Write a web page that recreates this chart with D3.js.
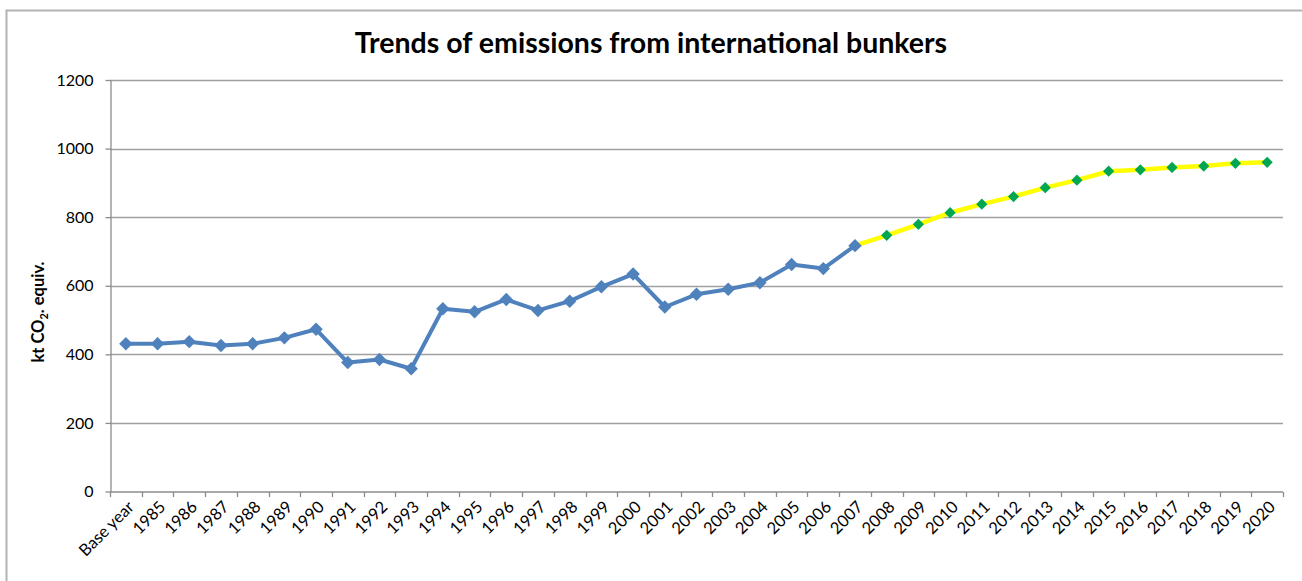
<!DOCTYPE html>
<html>
<head>
<meta charset="utf-8">
<script src="https://cdn.jsdelivr.net/npm/d3@7"></script>
<style>
  html, body { margin: 0; padding: 0; background: #fff; }
  svg { display: block; }
</style>
</head>
<body>
<svg id="chart" width="1302" height="581"></svg>
<script>
// Categories along the x axis
const categories = ["Base year", "1985", "1986", "1987", "1988", "1989", "1990", "1991", "1992",
  "1993", "1994", "1995", "1996", "1997", "1998", "1999", "2000", "2001", "2002", "2003",
  "2004", "2005", "2006", "2007", "2008", "2009", "2010", "2011", "2012", "2013", "2014",
  "2015", "2016", "2017", "2018", "2019", "2020"];

// Historical emissions, Base year to 2007 (kt CO2 equiv.)
const historical = [431, 431, 437, 426, 431, 448, 473, 376, 385, 358, 533, 524, 560, 528,
  555, 597, 634, 538, 575, 590, 609, 662, 650, 717];

// Projected emissions, 2007 to 2020 (kt CO2 equiv.)
const projectionYears = ["2007", "2008", "2009", "2010", "2011", "2012", "2013", "2014",
  "2015", "2016", "2017", "2018", "2019", "2020"];
const projection = [717, 747, 779, 813, 838, 860, 886, 908, 934, 938, 945, 949, 957, 960];

const yTicks = [0, 200, 400, 600, 800, 1000, 1200];

const svg = d3.select("#chart");
const font = "Lato, 'Open Sans', sans-serif";

// Outer frame
svg.append("path")
  .attr("d", "M6.5,590 L6.5,10.5 L1310,10.5")
  .attr("fill", "none").attr("stroke", "#b3b3b3").attr("stroke-width", 2);

const plotLeft = 110, plotRight = 1283, plotTop = 80, plotBottom = 491.5;

const x = d3.scaleBand().domain(categories).range([plotLeft, plotRight]).padding(0);
const y = d3.scaleLinear().domain([0, 1200]).range([plotBottom, plotTop]);

// Horizontal gridlines
svg.append("g")
  .selectAll("line")
  .data(yTicks.filter(d => d > 0))
  .join("line")
  .attr("x1", plotLeft).attr("x2", plotRight)
  .attr("y1", d => Math.round(y(d)) + 0.5).attr("y2", d => Math.round(y(d)) + 0.5)
  .attr("stroke", "#a0a0a0").attr("stroke-width", 1.3);

// Y axis
const yAxis = svg.append("g")
  .attr("transform", `translate(${plotLeft + 0.5},0)`)
  .call(d3.axisLeft(y).tickValues(yTicks).tickFormat(d3.format("d"))
    .tickSize(5).tickPadding(12).tickSizeOuter(0));
yAxis.select(".domain").attr("stroke", "#8c8c8c").attr("stroke-width", 1.3);
yAxis.selectAll(".tick line").attr("stroke", "#8c8c8c").attr("stroke-width", 1.3);
yAxis.selectAll(".tick text")
  .attr("font-family", font).attr("font-size", 16).attr("fill", "#000");

// X axis with ticks at category boundaries
const xAxisG = svg.append("g").attr("transform", `translate(0,${plotBottom + 0.5})`);
xAxisG.append("line")
  .attr("x1", plotLeft).attr("x2", plotRight)
  .attr("stroke", "#8c8c8c").attr("stroke-width", 1.3);
xAxisG.selectAll("line.tk")
  .data(categories.concat(["__end"]))
  .join("line").attr("class", "tk")
  .attr("x1", (d, i) => Math.round(plotLeft + i * x.bandwidth()) + 0.5)
  .attr("x2", (d, i) => Math.round(plotLeft + i * x.bandwidth()) + 0.5)
  .attr("y1", 0).attr("y2", 5)
  .attr("stroke", "#8c8c8c").attr("stroke-width", 1.3);
xAxisG.selectAll("text")
  .data(categories)
  .join("text")
  .attr("transform", d => `translate(${x(d) + x.bandwidth() / 2 + 5},${12}) rotate(-45)`)
  .attr("text-anchor", "end")
  .attr("dy", "0.35em")
  .attr("font-family", font).attr("font-size", 16.5).attr("fill", "#000")
  .text(d => d);

// Title
svg.append("text")
  .attr("x", 651).attr("y", 53)
  .attr("text-anchor", "middle")
  .attr("font-family", font).attr("font-weight", "bold").attr("font-size", 28.5)
  .attr("fill", "#000")
  .text("Trends of emissions from international bunkers");

// Y axis title
const yt = svg.append("text")
  .attr("transform", "translate(44,312) rotate(-90)")
  .attr("text-anchor", "middle")
  .attr("font-family", font).attr("font-weight", "bold").attr("font-size", 16.5)
  .attr("fill", "#000");
yt.append("tspan").text("kt CO");
yt.append("tspan").attr("font-size", 11).attr("dy", 4).text("2");
yt.append("tspan").attr("dy", -4).text(". equiv.");

const cx = d => x(d) + x.bandwidth() / 2;
const line = d3.line().x(d => cx(d[0])).y(d => y(d[1]));

const histPts = historical.map((v, i) => [categories[i], v]);
const projPts = projection.map((v, i) => [projectionYears[i], v]);

const diamond = d3.symbol().type(d3.symbolDiamond2);

// Projection series
svg.append("path")
  .datum(projPts)
  .attr("d", line)
  .attr("fill", "none").attr("stroke", "#ffff00").attr("stroke-width", 4.5)
  .attr("stroke-linejoin", "round");
svg.append("g").selectAll("path")
  .data(projPts.slice(1))
  .join("path")
  .attr("transform", d => `translate(${cx(d[0])},${y(d[1])})`)
  .attr("d", diamond.size(80))
  .attr("fill", "#00a651");

// Historical series
svg.append("path")
  .datum(histPts)
  .attr("d", line)
  .attr("fill", "none").attr("stroke", "#4f81bd").attr("stroke-width", 4)
  .attr("stroke-linejoin", "round");
svg.append("g").selectAll("path")
  .data(histPts)
  .join("path")
  .attr("transform", d => `translate(${cx(d[0])},${y(d[1])})`)
  .attr("d", diamond.size(115))
  .attr("fill", "#4f81bd");
</script>
</body>
</html>
